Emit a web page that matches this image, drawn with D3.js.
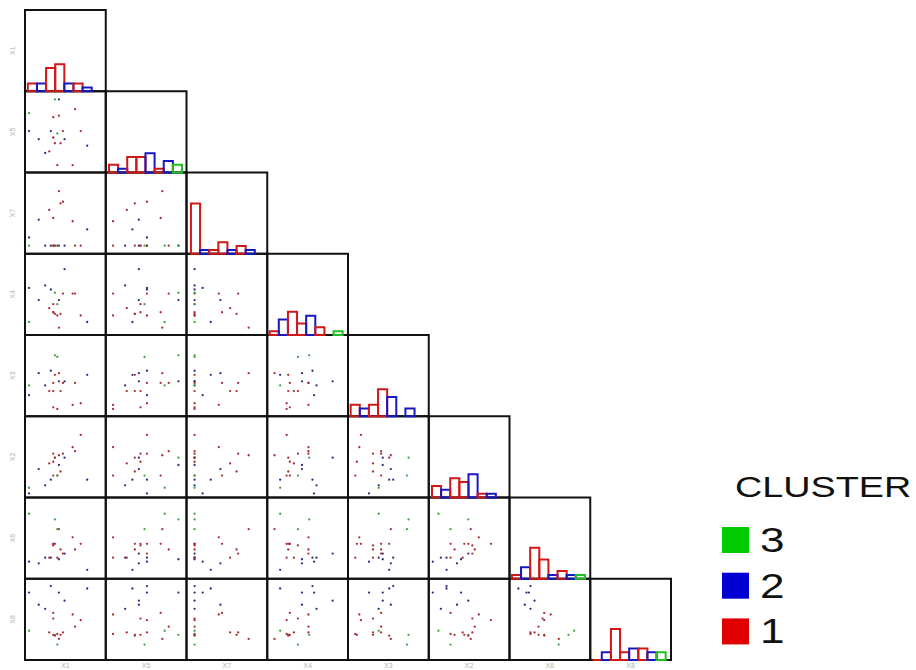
<!DOCTYPE html>
<html>
<head>
<meta charset="utf-8">
<script src="https://cdn.jsdelivr.net/npm/d3@7/dist/d3.min.js"></script>
<style>
  body { margin: 0; background: #fff; }
  svg { display: block; font-family: "Liberation Sans", Arial, sans-serif; }
</style>
</head>
<body>
<svg width="916" height="670"></svg>
<script>
// variable order along the diagonal
var vars = ["X1", "X5", "X7", "X4", "X3", "X2", "X6", "X8"];

var cluster = [2, 2, 2, 2, 2, 2, 2, 1, 1, 1, 1, 1, 3, 1, 1, 1, 1, 1, 3, 1, 1, 3];
var X1 = [32, 77, 5, 42, 49, 17, 25, 35, 59, 35, 69, 62, 5, 30, 47, 40, 44, 35, 37, 37, 42, 40];
var X5 = [51, 33, 51, 90, 41, 41, 24, 68, 9, 43, 51, 78, 73, 26, 51, 9, 36, 43, 90, 36, 70, 48];
var X7 = [10, 30, 20, 10, 10, 42, 10, 44, 40, 10, 10, 10, 10, 54, 64, 10, 62, 10, 10, 10, 77, 10];
var X4 = [56, 16, 58, 43, 81, 43, 61, 28, 51, 38, 24, 51, 16, 33, 51, 24, 26, 28, 52, 26, 9, 38];
var X3 = [56, 51, 26, 43, 43, 53, 38, 41, 14, 31, 16, 41, 38, 31, 41, 9, 31, 11, 75, 51, 53, 73];
var X2 = [22, 22, 5, 40, 49, 35, 15, 27, 62, 54, 77, 57, 12, 42, 54, 27, 32, 44, 49, 49, 52, 27];
var X6 = [26, 11, 21, 24, 31, 19, 26, 43, 51, 41, 43, 36, 80, 26, 31, 26, 36, 43, 73, 43, 61, 61];
var X8 = [91, 88, 83, 83, 73, 68, 63, 58, 56, 51, 49, 41, 36, 34, 34, 32, 31, 31, 31, 30, 26, 19];

// diagonal histograms: bin counts and the cluster that outlines each bin (0 = empty)
var binWidth = 11.3;
var histStart = [3.5, 4, 5.5, 3, 3.3, 4, 3, 3];
var hX1 = [2, 2, 6, 7, 2, 2, 1],       cX1 = [1, 2, 1, 1, 2, 1, 2];
var hX5 = [2, 1, 4, 4, 5, 1, 3, 2],    cX5 = [1, 2, 1, 1, 2, 1, 2, 3];
var hX7 = [13, 1, 1, 3, 1, 2, 1],      cX7 = [1, 2, 1, 1, 2, 1, 2];
var hX4 = [1, 4, 6, 3, 5, 2, 0, 1],    cX4 = [1, 2, 1, 1, 2, 1, 0, 3];
var hX3 = [3, 2, 3, 7, 5, 0, 2],       cX3 = [1, 2, 1, 1, 2, 0, 2];
var hX2 = [3, 2, 5, 4, 6, 1, 1],       cX2 = [1, 2, 1, 1, 2, 1, 2];
var hX6 = [1, 3, 8, 5, 1, 2, 1, 1],    cX6 = [1, 2, 1, 1, 2, 1, 2, 3];
var hX8 = [0, 2, 8, 2, 3, 3, 2, 2],    cX8 = [1, 2, 1, 1, 2, 1, 2, 3];

var legendKeys = [3, 2, 1];

var values = {X1: X1, X5: X5, X7: X7, X4: X4, X3: X3, X2: X2, X6: X6, X8: X8};
var hists = {X1: [hX1, cX1], X5: [hX5, cX5], X7: [hX7, cX7], X4: [hX4, cX4],
             X3: [hX3, cX3], X2: [hX2, cX2], X6: [hX6, cX6], X8: [hX8, cX8]};

var svg = d3.select("svg");

var gridLeft = 25, gridTop = 10, cw = 80.75, ch = 81.25;
var n = vars.length;

var color = d3.scaleOrdinal().domain([1, 2, 3]).range(["#e00000", "#0000d0", "#00cc00"]);
var lineColor = d3.scaleOrdinal().domain([1, 2, 3]).range(["#d01818", "#1818c0", "#20c020"]);
var dotColor = d3.scaleOrdinal().domain([1, 2, 3]).range(["#a83038", "#303080", "#48a048"]);

// one x scale per column and one y scale per row
var xs = vars.map(function(v, i) {
  return d3.scaleLinear().domain([0, 100]).range([gridLeft + i * cw, gridLeft + (i + 1) * cw]);
});
var ys = vars.map(function(v, j) {
  return d3.scaleLinear().domain([0, 100]).range([gridTop + (j + 1) * ch, gridTop + j * ch]);
});

var g = svg.append("g");

// scatter cells
for (var j = 0; j < n; j++) {
  for (var i = 0; i < j; i++) {
    var xv = values[vars[i]], yv = values[vars[j]];
    g.append("g").selectAll("circle")
      .data(cluster)
      .enter().append("circle")
        .attr("cx", function(d, k) { return xs[i](xv[k]); })
        .attr("cy", function(d, k) { return ys[j](yv[k]); })
        .attr("r", 1.15)
        .style("fill", function(d) { return dotColor(d); });
  }
}

// cell borders
for (var j = 0; j < n; j++) {
  for (var i = 0; i <= j; i++) {
    g.append("rect")
      .attr("x", xs[i].range()[0])
      .attr("y", ys[j].range()[1])
      .attr("width", cw)
      .attr("height", ch)
      .style("fill", "none")
      .style("stroke", "#111")
      .style("stroke-width", 2);
  }
}

// diagonal histograms (paths, so an empty bin still shows as a base line)
vars.forEach(function(v, i) {
  var counts = hists[v][0], cl = hists[v][1];
  var yc = d3.scaleLinear().domain([0, 21]).range(ys[i].range());
  var bins = counts.map(function(c, k) {
    return {x0: histStart[i] + k * binWidth, x1: histStart[i] + (k + 1) * binWidth, count: c, cl: cl[k]};
  }).filter(function(b) { return b.cl > 0; });

  g.append("g").selectAll("path")
    .data(bins)
    .enter().append("path")
      .attr("d", function(b) {
        var a = xs[i](b.x0), c = xs[i](b.x1), y0 = yc(0), y1 = yc(b.count);
        return "M" + a + "," + y0 + "V" + y1 + "H" + c + "V" + y0 + "Z";
      })
      .style("fill", "none")
      .style("stroke", function(b) { return lineColor(b.cl); })
      .style("stroke-width", 2);
});

// variable labels (tiny, faint)
g.selectAll(".xlab")
  .data(vars)
  .enter().append("text")
    .attr("class", "xlab")
    .attr("x", function(v, i) { return (xs[i].range()[0] + xs[i].range()[1]) / 2; })
    .attr("y", 668)
    .attr("text-anchor", "middle")
    .style("font-size", "7px")
    .style("fill", "#b0b0b0")
    .text(function(v) { return v; });

g.selectAll(".ylab")
  .data(vars)
  .enter().append("text")
    .attr("class", "ylab")
    .attr("transform", function(v, j) {
      return "translate(15," + ((ys[j].range()[0] + ys[j].range()[1]) / 2) + ") rotate(-90)";
    })
    .attr("text-anchor", "middle")
    .style("font-size", "7px")
    .style("fill", "#b0b0b0")
    .text(function(v) { return v; });

// legend
var legend = svg.append("g");

legend.append("text")
  .attr("transform", "translate(735,497) scale(1.26,1)")
  .style("font-size", "30px")
  .style("fill", "#111")
  .text("CLUSTER");

var item = legend.selectAll(".item")
  .data(legendKeys)
  .enter().append("g")
    .attr("class", "item")
    .attr("transform", function(d, k) { return "translate(722," + (527 + k * 45.7) + ")"; });

item.append("rect")
  .attr("width", 27)
  .attr("height", 26)
  .style("fill", function(d) { return color(d); });

item.append("text")
  .attr("transform", "translate(38,25) scale(1.26,1)")
  .style("font-size", "35px")
  .style("fill", "#111")
  .text(function(d) { return d; });
</script>
</body>
</html>
